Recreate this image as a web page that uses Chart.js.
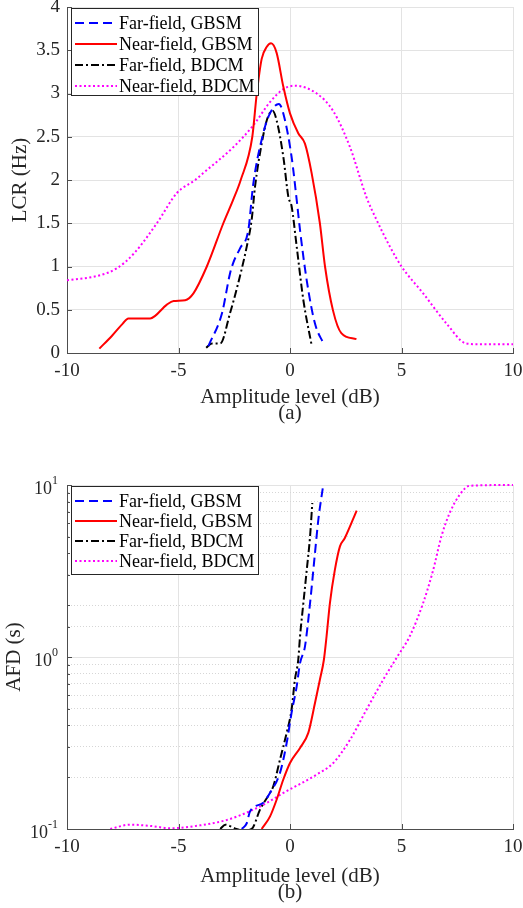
<!DOCTYPE html>
<html>
<head>
<meta charset="utf-8">
<script src="https://cdn.jsdelivr.net/npm/chart.js@4/dist/chart.umd.min.js"></script>
<style>
  body { margin: 0; background: #fff; }
  #wrap { position: relative; width: 523px; height: 908px; }
  #lcr { position: absolute; left: 0; top: 0; }
  #afd { position: absolute; left: 0; top: 460px; }
</style>
</head>
<body>
<div id="wrap">
  <canvas id="lcr" width="523" height="440"></canvas>
  <canvas id="afd" width="523" height="448"></canvas>
</div>
<script>
// ============================================================
// DATA
// ============================================================
const seriesLabels = ['Far-field, GBSM', 'Near-field, GBSM', 'Far-field, BDCM', 'Near-field, BDCM'];
const xTicks = [-10, -5, 0, 5, 10];
const afdTicks = [0.1, 1, 10];

// (a) LCR (Hz)
const lcrFarGbsmX  = [-3.66,-3.05,-2.69,-2.55,-2.24,-1.87,-1.65,-1.2,-0.9,-0.5,-0.3,0.07,0.3,0.45,0.75,1.12,1.52];
const lcrFarGbsmY  = [0.08,0.46,0.92,1.04,1.21,1.42,1.95,2.54,2.77,2.88,2.77,2.27,1.77,1.42,0.84,0.34,0.1];
const lcrNearGbsmX = [-8.55,-7.98,-7.5,-7.25,-6.27,-5.52,-5.22,-4.7,-4.33,-3.73,-2.99,-2.55,-2.21,-1.69,-1.49,-1.27,-1.04,-0.85,-0.6,-0.3,0,0.37,0.67,0.97,1.34,1.57,1.93,2.3,2.98];
const lcrNearGbsmY = [0.05,0.2,0.34,0.4,0.4,0.56,0.6,0.61,0.69,1.0,1.5,1.77,2.0,2.5,3.0,3.4,3.54,3.58,3.47,3.08,2.77,2.54,2.42,2.08,1.5,1.0,0.49,0.23,0.16];
const lcrFarBdcmX  = [-3.76,-3.5,-3.13,-2.69,-2.33,-1.94,-1.72,-1.57,-1.27,-1.04,-0.78,-0.6,-0.3,-0.07,0.07,0.3,0.6,0.97];
const lcrFarBdcmY  = [0.06,0.11,0.11,0.46,0.8,1.23,1.54,1.92,2.42,2.69,2.8,2.69,2.27,1.8,1.7,1.23,0.61,0.09];
const lcrNearBdcmX = [-10,-8.5,-7.76,-7.0,-5.97,-5.07,-4.25,-3.89,-2.54,-1.65,-0.9,-0.3,0.2,1.2,1.93,2.69,3.43,3.88,4.48,5.0,5.97,7.02,7.9,8.5,10];
const lcrNearBdcmY = [0.84,0.9,0.98,1.15,1.5,1.85,2.0,2.08,2.38,2.63,2.9,3.05,3.09,3.0,2.8,2.38,1.8,1.54,1.23,1.0,0.69,0.34,0.11,0.1,0.1];

// (b) AFD (s)
const afdFarGbsmX  = [-2.16,-1.94,-1.79,-1.2,-0.9,-0.45,-0.15,0.07,0.3,0.45,0.67,0.9,1.12,1.27,1.49];
const afdFarGbsmY  = [0.1,0.108,0.127,0.142,0.162,0.212,0.316,0.473,0.675,0.923,1.15,2.06,4.02,6.28,10];
const afdNearGbsmX = [-1.27,-0.9,-0.6,-0.3,0,0.45,0.82,1.12,1.34,1.52,1.64,1.79,2.01,2.24,2.46,2.99];
const afdNearGbsmY = [0.1,0.118,0.148,0.194,0.242,0.296,0.362,0.54,0.738,0.964,1.32,2.06,3.2,4.4,4.92,7.1];
const afdFarBdcmX  = [-3.13,-2.9,-2.69,-2.4,-2.1,-1.72,-1.34,-0.9,-0.75,-0.45,-0.15,0.07,0.22,0.37,0.45,0.6,0.75,0.9,1.0];
const afdFarBdcmY  = [0.1,0.106,0.104,0.1,0.098,0.1,0.13,0.162,0.177,0.253,0.362,0.494,0.738,0.964,1.32,2.06,3.2,5.03,7.86];
const afdNearBdcmX = [-8.06,-7.17,-6.2,-5.37,-4.03,-2.82,-1.79,-1.03,-0.3,1.19,1.94,2.69,3.43,4.18,4.78,5.37,5.97,6.42,6.79,7.16,7.61,8.06,10];
const afdNearBdcmY = [0.1,0.106,0.104,0.101,0.105,0.113,0.127,0.142,0.162,0.207,0.242,0.33,0.494,0.738,0.99,1.32,2.06,3.2,5.03,6.87,8.77,9.9,10];

// ============================================================
// STYLE
// ============================================================
const FONT = "'Liberation Serif', 'Times New Roman', serif";
const TXT = '#262626';
const AXIS = '#4d4d4d';
const GRID = '#e3e3e3';
const GRID_MINOR = '#d6d6d6';

const lineStyles = [
  { borderColor: '#0000ff', borderWidth: 2, borderDash: [9, 5] },
  { borderColor: '#ff0000', borderWidth: 2, borderDash: [] },
  { borderColor: '#000000', borderWidth: 2, borderDash: [8, 3, 2, 3] },
  { borderColor: '#ff00ff', borderWidth: 2, borderDash: [2, 2.5] }
];

const pts = (xs, ys) => xs.map((x, i) => ({ x, y: ys[i] }));
const isDecade = v => Math.abs(Math.log10(v) - Math.round(Math.log10(v))) < 1e-9;

function makeSets(list) {
  return list.map(([xs, ys], i) => ({
    label: seriesLabels[i], data: pts(xs, ys), ...lineStyles[i],
    pointRadius: 0, fill: false, cubicInterpolationMode: 'monotone',
    clip: { left: 0, top: 2, right: 2, bottom: 0 }
  }));
}

// legend box drawn inside the plot (top-left)
const boxLegend = {
  id: 'boxLegend',
  afterDraw(chart, args, o) {
    const { ctx, chartArea } = chart;
    const x = chartArea.left + 4, y = chartArea.top + 1;
    ctx.save();
    ctx.fillStyle = '#fff';
    ctx.fillRect(x, y, o.w, o.h);
    ctx.strokeStyle = '#262626'; ctx.lineWidth = 1;
    ctx.strokeRect(x + 0.5, y + 0.5, o.w, o.h);
    ctx.font = '18px ' + FONT; ctx.textBaseline = 'middle'; ctx.textAlign = 'left';
    chart.data.datasets.forEach((ds, i) => {
      const yy = Math.round(y + o.first + i * o.step);
      ctx.strokeStyle = ds.borderColor; ctx.lineWidth = ds.borderWidth;
      ctx.setLineDash(ds.borderDash || []);
      ctx.beginPath(); ctx.moveTo(x + 4, yy); ctx.lineTo(x + 46, yy); ctx.stroke();
      ctx.setLineDash([]);
      ctx.fillStyle = '#000';
      ctx.fillText(ds.label, x + 48, yy + 1);
    });
    ctx.restore();
  }
};

// inward tick marks, MATLAB style
const inTicks = {
  id: 'inTicks',
  afterDatasetsDraw(chart) {
    const { ctx, chartArea: a, scales: { x, y } } = chart;
    ctx.save(); ctx.strokeStyle = AXIS; ctx.lineWidth = 1; ctx.beginPath();
    x.ticks.forEach(t => {
      const p = Math.round(x.getPixelForValue(t.value)) + 0.5;
      ctx.moveTo(p, a.bottom); ctx.lineTo(p, a.bottom - 5);
    });
    y.ticks.forEach(t => {
      const p = Math.round(y.getPixelForValue(t.value)) + 0.5;
      const len = (y.type === 'logarithmic' && !isDecade(t.value)) ? 3 : 5;
      ctx.moveTo(a.left, p); ctx.lineTo(a.left + len, p);
    });
    ctx.stroke(); ctx.restore();
  }
};

// 10^n labels for the log axis
const powLabels = {
  id: 'powLabels',
  afterDraw(chart) {
    const { ctx, scales: { y } } = chart;
    ctx.save(); ctx.fillStyle = TXT; ctx.textBaseline = 'middle'; ctx.textAlign = 'left';
    afdTicks.forEach(v => {
      const p = y.getPixelForValue(v);
      const sup = String(Math.round(Math.log10(v)));
      ctx.font = '18px ' + FONT; const wb = ctx.measureText('10').width;
      ctx.font = '12px ' + FONT; const ws = ctx.measureText(sup).width;
      const right = y.right - 9;
      ctx.font = '18px ' + FONT; ctx.fillText('10', right - ws - wb, p + 4);
      ctx.font = '12px ' + FONT; ctx.fillText(sup, right - ws, p - 4);
    });
    ctx.restore();
  }
};

function xScale(height, titleText, titlePad) {
  return {
    type: 'linear', min: -10, max: 10,
    afterBuildTicks: s => { s.ticks = xTicks.map(v => ({ value: v })); },
    afterFit: s => { s.height = height; s.paddingLeft = 0; s.paddingRight = 0; },
    grid: { color: GRID, drawTicks: false },
    border: { color: AXIS, width: 1 },
    ticks: { color: TXT, padding: 7, maxRotation: 0, font: { family: FONT, size: 19 }, callback: v => String(v) },
    title: { display: true, text: titleText, color: TXT, font: { family: FONT, size: 21, lineHeight: '16px' },
             padding: { top: 0, bottom: titlePad } }
  };
}

// ============================================================
// (a) LCR
// ============================================================
new Chart(document.getElementById('lcr'), {
  type: 'line',
  data: { datasets: makeSets([
    [lcrFarGbsmX, lcrFarGbsmY], [lcrNearGbsmX, lcrNearGbsmY],
    [lcrFarBdcmX, lcrFarBdcmY], [lcrNearBdcmX, lcrNearBdcmY]
  ]) },
  options: {
    responsive: false, animation: false, devicePixelRatio: 1,
    layout: { padding: { top: 7, right: 10, left: 0, bottom: 0 } },
    plugins: { legend: { display: false }, tooltip: { enabled: false },
               boxLegend: { w: 187, h: 87, first: 15, step: 21 } },
    scales: {
      x: xScale(87, ['Amplitude level (dB)', '(a)'], 19),
      y: {
        type: 'linear', min: 0, max: 4,
        afterFit: s => { s.width = 67; s.paddingTop = 0; s.paddingBottom = 0; },
        grid: { color: GRID, drawTicks: false },
        border: { color: AXIS, width: 1 },
        ticks: { stepSize: 0.5, color: TXT, padding: 7, font: { family: FONT, size: 19 }, callback: v => String(v) },
        title: { display: true, text: 'LCR (Hz)', color: TXT, font: { family: FONT, size: 21, lineHeight: 1 },
                 padding: { top: 10, bottom: 0 } }
      }
    }
  },
  plugins: [inTicks, boxLegend]
});

// ============================================================
// (b) AFD
// ============================================================
new Chart(document.getElementById('afd'), {
  type: 'line',
  data: { datasets: makeSets([
    [afdFarGbsmX, afdFarGbsmY], [afdNearGbsmX, afdNearGbsmY],
    [afdFarBdcmX, afdFarBdcmY], [afdNearBdcmX, afdNearBdcmY]
  ]) },
  options: {
    responsive: false, animation: false, devicePixelRatio: 1,
    layout: { padding: { top: 25, right: 10, left: 0, bottom: 0 } },
    plugins: { legend: { display: false }, tooltip: { enabled: false },
               boxLegend: { w: 187, h: 88, first: 15, step: 20 } },
    scales: {
      x: xScale(79, ['Amplitude level (dB)', '(b)'], 8),
      y: {
        type: 'logarithmic', min: 0.1, max: 10,
        afterFit: s => { s.width = 67; s.paddingTop = 0; s.paddingBottom = 0; },
        grid: { color: c => (c.tick && !isDecade(c.tick.value)) ? GRID_MINOR : GRID, drawTicks: false },
        border: { color: AXIS, width: 1, dash: c => (c.tick && !isDecade(c.tick.value)) ? [1, 2] : [] },
        ticks: { display: false, autoSkip: false },
        title: { display: true, text: 'AFD (s)', color: TXT, font: { family: FONT, size: 21, lineHeight: 1 },
                 padding: { top: 4, bottom: 0 } }
      }
    }
  },
  plugins: [inTicks, boxLegend, powLabels]
});
</script>
</body>
</html>
